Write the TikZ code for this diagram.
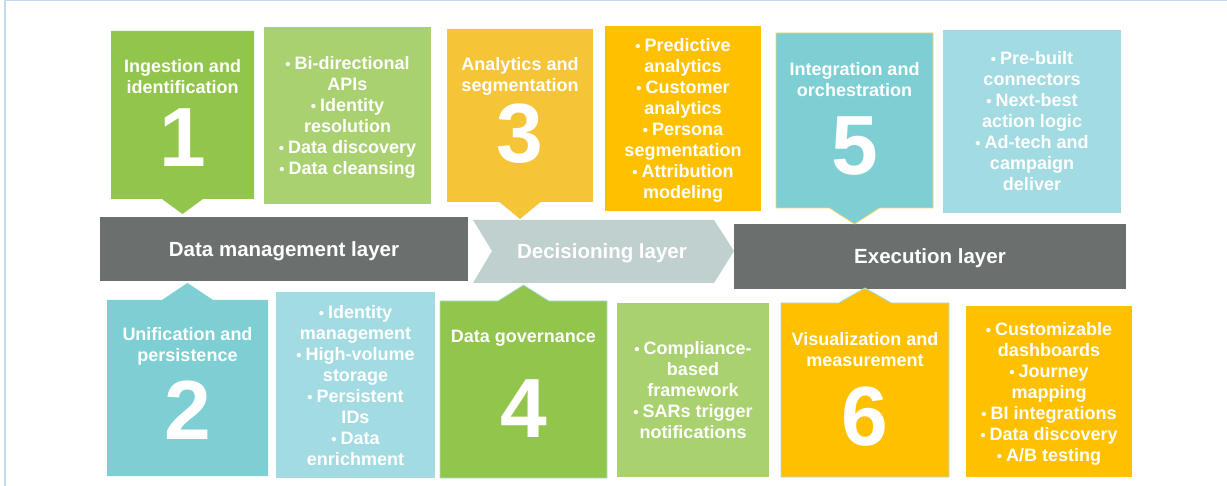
\documentclass[tikz,border=0pt]{standalone}
\usepackage{fontspec}
\setmainfont{Liberation Sans}
\definecolor{gdark}{HTML}{92C54B}
\definecolor{glight}{HTML}{A9D16F}
\definecolor{goldbox}{HTML}{F5C437}
\definecolor{amber}{HTML}{FFC000}
\definecolor{tealbox}{HTML}{7DCFD3}
\definecolor{teallight}{HTML}{A3DBE2}
\definecolor{barcol}{HTML}{6B6F6E}
\definecolor{chevcol}{HTML}{C0D0CF}
\definecolor{framecol}{HTML}{C5D9F1}
\definecolor{yellowedge}{HTML}{F3D46E}
\definecolor{tealedge}{HTML}{A8DCE0}
\newcommand{\bu}{{\fontsize{15}{15}\selectfont\textbullet}\hspace{4pt}}
\begin{document}
\begin{tikzpicture}[x=1pt,y=-1pt,
  shapebox/.style={rectangle, inner sep=0pt, outer sep=0pt, anchor=north west},
  titletext/.style={text=white, font=\fontsize{18}{21}\selectfont\bfseries, align=center, inner sep=0pt, anchor=north},
  numtext/.style={text=white, font=\fontsize{84}{84}\selectfont\bfseries, inner sep=0pt, anchor=base},
  bullettext/.style={text=white, font=\fontsize{18}{21}\selectfont\bfseries, align=center, inner sep=0pt},
  bartext/.style={text=white, font=\fontsize{20.5}{24}\selectfont\bfseries, inner sep=0pt, anchor=base},
  edge/.style={line width=0.8pt}
]
\useasboundingbox (0,0) rectangle (1227,486);
% frame
\draw[framecol, line width=1.5pt] (5,486) -- (5,0.7) -- (1227,0.7);

% ---------- bars ----------
\node[shapebox, fill=barcol, minimum width=368pt, minimum height=64pt] (dm) at (100,217) {};
\node[bartext] (dmt) at (284,257) {Data management layer};
\fill[chevcol] (473,220) -- (714,220) -- (734,251) -- (714,283) -- (473,283) -- (492,251) -- cycle;
\node[bartext] (dect) at (602,259) {Decisioning layer};
\node[shapebox, fill=barcol, minimum width=392pt, minimum height=65pt] (ex) at (734,224) {};
\node[bartext] (ext) at (930,264) {Execution layer};

% ---------- box 1 ----------
\node[shapebox, minimum width=143pt, minimum height=168pt] (s1) at (111,31) {};
\fill[gdark] (s1.north west) -- (s1.north east) -- (s1.south east) -- ([xshift=20.5pt]s1.south) -- ([yshift=-15pt]s1.south) -- ([xshift=-20.5pt]s1.south) -- (s1.south west) -- cycle;
\node[titletext] (h1) at (182.5,57.3) {\strut Ingestion and\\identification};
\node[numtext] (n1) at (182.5,167) {1};
\node[shapebox, fill=glight, minimum width=167pt, minimum height=177pt] (p1) at (264,27) {};
\node[bullettext] (q1) at ([yshift=-2.3pt]p1.center) {\strut\bu Bi-directional\\APIs\\\bu Identity\\resolution\\\bu Data discovery\\\bu Data cleansing\strut};

% ---------- box 3 ----------
\node[shapebox, minimum width=146pt, minimum height=173pt] (s3) at (447,29) {};
\fill[goldbox] (s3.north west) -- (s3.north east) -- (s3.south east) -- ([xshift=20.5pt]s3.south) -- ([yshift=-17pt]s3.south) -- ([xshift=-20.5pt]s3.south) -- (s3.south west) -- cycle;
\node[titletext] (h3) at (520,55.3) {\strut Analytics and\\segmentation};
\node[numtext] (n3) at (520,163) {3};
\node[shapebox, fill=amber, minimum width=156pt, minimum height=185pt] (p3) at (605,26) {};
\node[bullettext] (q3) at ([yshift=-2.3pt]p3.center) {\strut\bu Predictive\\analytics\\\bu Customer\\analytics\\\bu Persona\\segmentation\\\bu Attribution\\modeling\strut};

% ---------- box 5 ----------
\node[shapebox, minimum width=157pt, minimum height=175pt] (s5) at (776,33) {};
\filldraw[fill=tealbox, draw=yellowedge, edge] (s5.north west) -- (s5.north east) -- (s5.south east) -- ([xshift=25pt]s5.south) -- ([yshift=-16pt]s5.south) -- ([xshift=-25pt]s5.south) -- (s5.south west) -- cycle;
\node[titletext] (h5) at (854.5,60.3) {\strut Integration and\\orchestration};
\node[numtext] (n5) at (854.5,175) {5};
\node[shapebox, fill=teallight, minimum width=178pt, minimum height=183pt] (p5) at (943,30) {};
\node[bullettext] (q5) at ([yshift=-2.3pt]p5.center) {\strut\bu Pre-built\\connectors\\\bu Next-best\\action logic\\\bu Ad-tech and\\campaign\\deliver\strut};

% ---------- box 2 ----------
\node[shapebox, minimum width=161pt, minimum height=176pt] (s2) at (107,300) {};
\fill[tealbox] (s2.south west) -- (s2.south east) -- (s2.north east) -- ([xshift=25.5pt]s2.north) -- ([yshift=17pt]s2.north) -- ([xshift=-25.5pt]s2.north) -- (s2.north west) -- cycle;
\node[titletext] (h2) at (187.5,325.3) {\strut Unification and\\persistence};
\node[numtext] (n2) at (187.5,439) {2};
\node[shapebox, fill=teallight, minimum width=159pt, minimum height=186pt] (p2) at (276,292) {};
\node[bullettext] (q2) at ([yshift=-2.3pt]p2.center) {\strut\bu Identity\\management\\\bu High-volume\\storage\\\bu Persistent\\IDs\\\bu Data\\enrichment\strut};

% ---------- box 4 ----------
\node[shapebox, minimum width=167pt, minimum height=177pt] (s4) at (440,301) {};
\filldraw[fill=gdark, draw=tealedge, edge] (s4.south west) -- (s4.south east) -- (s4.north east) -- ([xshift=25.5pt]s4.north) -- ([yshift=16pt]s4.north) -- ([xshift=-25.5pt]s4.north) -- (s4.north west) -- cycle;
\node[titletext] (h4) at (523.5,327.3) {\strut Data governance};
\node[numtext] (n4) at (523.5,437) {4};
\node[shapebox, fill=glight, minimum width=152pt, minimum height=174pt] (p4) at (617,303) {};
\node[bullettext] (q4) at ([yshift=-2.3pt]p4.center) {\strut\bu Compliance-\\based\\framework\\\bu SARs trigger\\notifications\strut};

% ---------- box 6 ----------
\node[shapebox, minimum width=168pt, minimum height=174pt] (s6) at (781,303) {};
\filldraw[fill=amber, draw=tealedge, edge] (s6.south west) -- (s6.south east) -- (s6.north east) -- ([xshift=26.5pt]s6.north) -- ([yshift=15pt]s6.north) -- ([xshift=-26.5pt]s6.north) -- (s6.north west) -- cycle;
\node[titletext] (h6) at (865,330.3) {\strut Visualization and\\measurement};
\node[numtext] (n6) at (865,445) {6};
\node[shapebox, fill=amber, minimum width=166pt, minimum height=171pt] (p6) at (966,306) {};
\node[bullettext] (q6) at ([yshift=-2.3pt]p6.center) {\strut\bu Customizable\\dashboards\\\bu Journey\\mapping\\\bu BI integrations\\\bu Data discovery\\\bu A/B testing\strut};
\end{tikzpicture}
\end{document}
